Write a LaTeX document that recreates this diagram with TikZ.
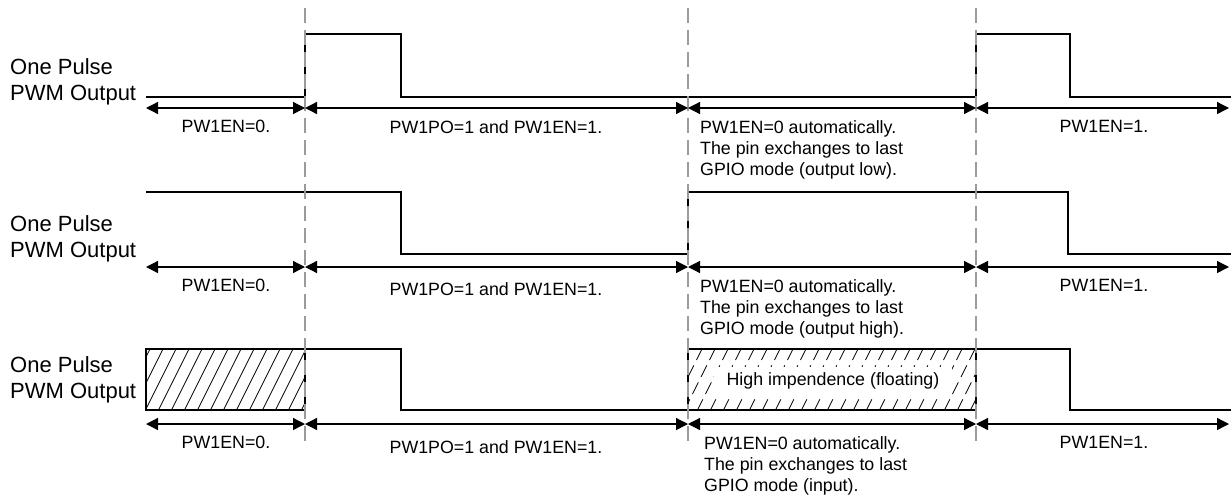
\documentclass[tikz,border=0pt]{standalone}
\usepackage{fontspec}
\setmainfont{Liberation Sans}
\usetikzlibrary{arrows.meta}
\definecolor{guidegray}{RGB}{155,155,155}
\begin{document}
\begin{tikzpicture}[x=1pt,y=-1pt,
  wave/.style={line width=2.6pt, line join=miter, line cap=butt},
  guide/.style={draw=guidegray, line width=2pt, dash pattern=on 15pt off 7pt},
  span/.style={line width=1.3pt, {Triangle[length=12pt,width=12pt]}-{Triangle[length=12pt,width=12pt]}},
  lbl/.style={font=\fontsize{22}{26}\selectfont, align=left, anchor=west, inner sep=0pt},
  txt/.style={font=\fontsize{17.8}{21}\selectfont, inner sep=0pt},
  multi/.style={txt, align=left, anchor=north west},
  hatch/.style={line width=0.8pt},
  dhatch/.style={line width=0.8pt, dash pattern=on 13pt off 6pt}]

\useasboundingbox (0,0) rectangle (1231,496);

% row labels
\node[lbl] (l1) at (10,82) {One Pulse\\PWM Output};
\node[lbl] (l2) at (10,239) {One Pulse\\PWM Output};
\node[lbl] (l3) at (10,380) {One Pulse\\PWM Output};

% ---------- row 3 hatching ----------
\begin{scope}
  \clip (146,349) rectangle (305,410);
  \foreach \i in {106,119,...,320} \draw[hatch] (\i,411) -- ++(32,-64);
\end{scope}
\begin{scope}
  \clip (688,349) rectangle (976,410);
  \foreach \i in {645,658,...,990} \draw[dhatch] (\i,411) -- ++(32,-64);
\end{scope}
\node[txt, fill=white, inner xsep=13pt, inner ysep=5.5pt] (hz) at (833,381) {High impendence (floating)};

% ---------- waveforms ----------
\draw[wave] (146,97) -- (305,97) -- (305,34) -- (401,34) -- (401,97) -- (976,97) -- (976,34) -- (1070,34) -- (1070,97) -- (1231,97);
\draw[wave] (146,192) -- (401,192) -- (401,254) -- (688,254) -- (688,192) -- (1068,192) -- (1068,254) -- (1231,254);
\draw[wave] (305,410) -- (146,410) -- (146,349) -- (401,349) -- (401,410) -- (976,410) -- (976,349);
\draw[wave] (688,410) -- (688,349) -- (1070,349) -- (1070,410) -- (1231,410);
\draw[wave] (305,349) -- (305,410);

% ---------- guide lines ----------
\coordinate (g1t) at (305,8);  \coordinate (g1b) at (305,442);
\coordinate (g2t) at (688,8);  \coordinate (g2b) at (688,442);
\coordinate (g3t) at (976,8);  \coordinate (g3b) at (976,442);
\draw[guide] (g1t) -- (g1b);
\draw[guide] (g2t) -- (g2b);
\draw[guide] (g3t) -- (g3b);

% ---------- span arrows ----------
\foreach \r/\y in {a/108,b/267,c/424}{
  \coordinate (\r0) at (146,\y);
  \coordinate (\r1) at (305,\y);
  \coordinate (\r2) at (688,\y);
  \coordinate (\r3) at (976,\y);
  \coordinate (\r4) at (1229,\y);
  \draw[span] (\r0) -- (\r1);
  \draw[span] (\r1) -- (\r2);
  \draw[span] (\r2) -- (\r3);
  \draw[span] (\r3) -- (\r4);
}

% ---------- row 1 texts ----------
\node[txt] (t1a) at (226,126) {PW1EN=0.};
\node[txt] (t1b) at (496,127) {PW1PO=1 and PW1EN=1.};
\node[multi] (t1c) at (700,120) {PW1EN=0 automatically.\\The pin exchanges to last\\GPIO mode (output low).};
\node[txt] (t1d) at (1104,126) {PW1EN=1.};

% ---------- row 2 texts ----------
\node[txt] (t2a) at (226,285) {PW1EN=0.};
\node[txt] (t2b) at (496,289) {PW1PO=1 and PW1EN=1.};
\node[multi] (t2c) at (700,279) {PW1EN=0 automatically.\\The pin exchanges to last\\GPIO mode (output high).};
\node[txt] (t2d) at (1104,285) {PW1EN=1.};

% ---------- row 3 texts ----------
\node[txt] (t3a) at (226,442) {PW1EN=0.};
\node[txt] (t3b) at (496,447) {PW1PO=1 and PW1EN=1.};
\node[multi] (t3c) at (704,436) {PW1EN=0 automatically.\\The pin exchanges to last\\GPIO mode (input).};
\node[txt] (t3d) at (1104,442) {PW1EN=1.};
\end{tikzpicture}
\end{document}
